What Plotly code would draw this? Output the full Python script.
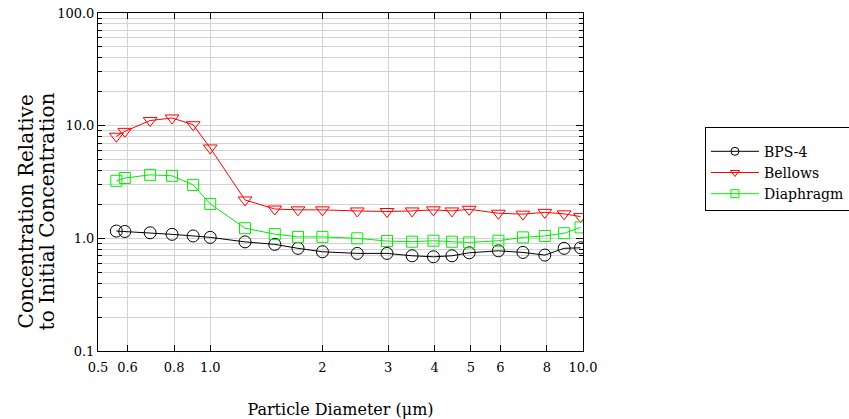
import plotly.graph_objects as go

diam = [0.56, 0.59, 0.69, 0.79, 0.90, 1.0, 1.24, 1.49, 1.72, 2.0, 2.48, 2.98,
        3.48, 3.97, 4.45, 4.95, 5.93, 6.9, 7.9, 8.9, 9.85]
bps4 = [1.16, 1.15, 1.12, 1.085, 1.05, 1.02, 0.93, 0.884, 0.815, 0.76, 0.735, 0.735,
        0.70, 0.686, 0.70, 0.744, 0.775, 0.75, 0.71, 0.815, 0.825]
bellows = [8.05, 8.9, 11.1, 11.7, 10.2, 6.34, 2.19, 1.82, 1.79, 1.79, 1.75, 1.73,
           1.75, 1.79, 1.75, 1.81, 1.67, 1.64, 1.70, 1.65, 1.56]
diaphragm = [3.24, 3.43, 3.66, 3.59, 2.98, 2.02, 1.23, 1.09, 1.03, 1.03, 1.0, 0.946,
             0.933, 0.952, 0.933, 0.92, 0.952, 1.02, 1.05, 1.11, 1.25]

series_names = ["BPS-4", "Bellows", "Diaphragm"]
series_values = [bps4, bellows, diaphragm]
series_colors = ["black", "#ff0000", "#00ee00"]
series_symbols = ["circle-open", "triangle-down-open", "square-open"]
series_sizes = [12, 12, 11]

x_ticks = [0.5, 0.6, 0.8, 1.0, 2, 3, 4, 5, 6, 8, 10]
x_labels = ["0.5", "0.6", "0.8", "1.0", "2", "3", "4", "5", "6", "8", "10.0"]
y_ticks = [0.1, 1, 10, 100]
y_labels = ["0.1", "1.0", "10.0", "100.0"]
y_minor = [m * d for d in (0.1, 1, 10) for m in range(2, 10)]
y_title = ["Concentration Relative", "to Initial Concentration"]

FONT = "DejaVu Serif"

fig = go.Figure()
for name, vals, col, sym, sz in zip(series_names, series_values, series_colors,
                                    series_symbols, series_sizes):
    fig.add_trace(go.Scatter(x=diam, y=vals, name=name, mode="lines+markers",
                             showlegend=False, legendgroup=name,
                             line=dict(color=col, width=1),
                             marker=dict(symbol=sym, size=sz, color=col, line=dict(width=1))))
for name, col, sym in zip(series_names, series_colors, series_symbols):
    # legend-only entry with the smaller legend marker
    fig.add_trace(go.Scatter(x=[None], y=[None], name=name, mode="lines+markers",
                             legendgroup=name,
                             line=dict(color=col, width=1),
                             marker=dict(symbol=sym, size=8, color=col, line=dict(width=1))))

for i, t in enumerate(y_title):
    fig.add_annotation(text=t, xref="paper", yref="paper", x=0, y=0.413,
                       xanchor="center", yanchor="middle", textangle=-90,
                       xshift=-72 + 21 * i, showarrow=False,
                       font=dict(family=FONT, size=20, color="black"))

fig.update_layout(
    width=849, height=419,
    margin=dict(l=98, r=266, t=13, b=68, autoexpand=False),
    paper_bgcolor="white", plot_bgcolor="white",
    font=dict(family=FONT, size=13, color="black"),
    showlegend=True,
    legend=dict(x=1.2515, y=0.663, xanchor="left", yanchor="top",
                bordercolor="black", borderwidth=1, bgcolor="white",
                itemwidth=48,
                title=dict(text="\u00a0", font=dict(size=6)),
                font=dict(family=FONT, size=14, color="black"), tracegroupgap=0),
    xaxis=dict(type="log", range=[-0.30103, 1.0], tickvals=x_ticks, ticktext=x_labels,
               ticks="inside", ticklen=6, tickcolor="black", showline=True,
               linecolor="black", linewidth=1, mirror="allticks", automargin=False,
               showgrid=True, gridcolor="#d3d3d3", zeroline=False,
               ticklabelstandoff=4,
               tickfont=dict(family=FONT, size=13, color="black"),
               title=dict(text="Particle Diameter (μm)",
                          font=dict(family=FONT, size=16, color="black"), standoff=30)),
    yaxis=dict(type="log", range=[-1, 2], tickvals=y_ticks, ticktext=y_labels,
               ticks="inside", ticklen=7, tickcolor="black", showline=True,
               linecolor="black", linewidth=1, mirror="allticks", automargin=False,
               showgrid=True, gridcolor="#d3d3d3", zeroline=False,
               tickfont=dict(family=FONT, size=13, color="black"),
               minor=dict(tickvals=y_minor, ticks="inside", ticklen=4, tickcolor="black",
                          showgrid=True, gridcolor="#d3d3d3")),
)

fig.write_html("out.html")
